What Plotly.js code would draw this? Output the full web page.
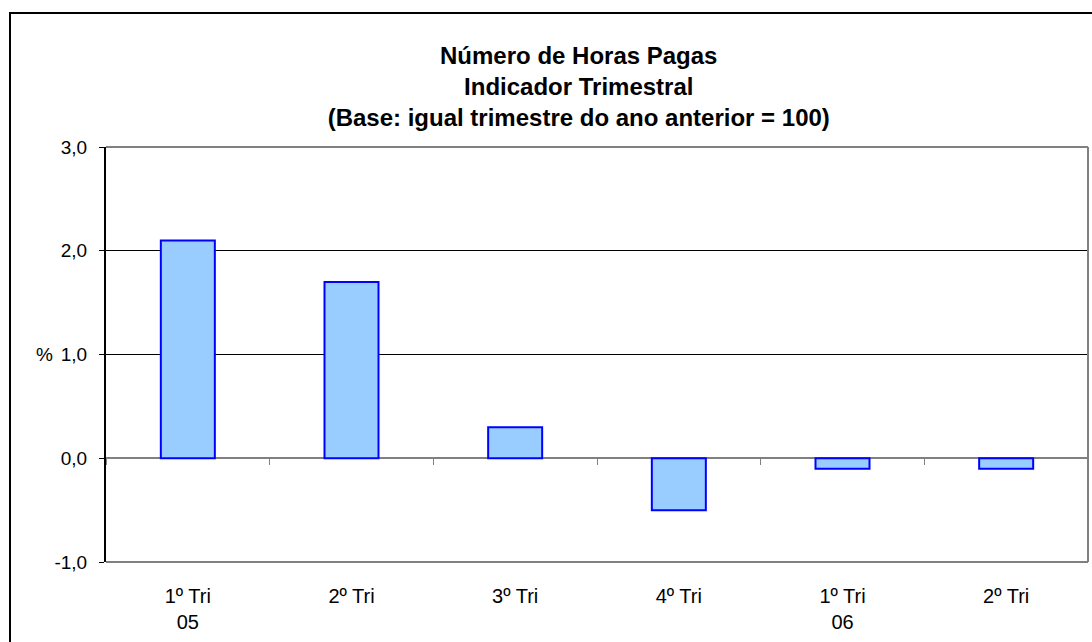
<!DOCTYPE html>
<html>
<head>
<meta charset="utf-8">
<script src="https://cdn.plot.ly/plotly-3.0.1.min.js"></script>
<style>
  html, body { margin: 0; padding: 0; background: #fff; overflow: hidden; }
  #chart { width: 1092px; height: 642px; }
  #frame { position: absolute; left: 9px; top: 12px; width: 2000px; height: 2000px;
           border-left: 2px solid #000; border-top: 2px solid #000; pointer-events: none; }
</style>
</head>
<body>
<div id="chart"></div>
<div id="frame"></div>
<script>
const categories = ["1º Tri 05", "2º Tri 05", "3º Tri 05", "4º Tri 05", "1º Tri 06", "2º Tri 06"];
const tickLabels = ["1º Tri<br>05", "2º Tri", "3º Tri", "4º Tri", "1º Tri<br>06", "2º Tri"];
const values = [2.1, 1.7, 0.3, -0.5, -0.1, -0.1];
const yTicks = [-1, 0, 1, 2, 3];
const yTickLabels = ["-1,0", "0,0", "1,0", "2,0", "3,0"];

const FONT = "Liberation Sans, Arial, sans-serif";
const catRange = [-0.5, categories.length - 0.5];

const traces = [
  {
    type: "bar", x: categories, y: values,
    marker: { color: "#99CCFF", line: { color: "#0000FF", width: 2 } },
    hoverinfo: "skip", showlegend: false
  },
  {
    type: "scatter", mode: "markers", x: categories, y: values,
    xaxis: "x2", marker: { opacity: 0 }, hoverinfo: "skip", showlegend: false
  }
];

const layout = {
  width: 1092, height: 642,
  margin: { l: 106, r: 4, t: 147, b: 80 },
  paper_bgcolor: "#fff", plot_bgcolor: "#fff",
  separators: ",.",
  bargap: 0.67,
  font: { family: FONT, color: "#000", size: 18 },
  title: {
    text: "<b>Número de Horas Pagas<br>Indicador Trimestral<br>(Base: igual trimestre do ano anterior = 100)</b>",
    font: { family: FONT, size: 24, color: "#000" },
    x: 0.530, xanchor: "center", xref: "container",
    y: 1 - 64 / 642, yanchor: "middle", yref: "container"
  },
  xaxis: {
    type: "category", categoryarray: categories, categoryorder: "array",
    range: catRange, autorange: false,
    tickmode: "array", tickvals: categories, ticktext: tickLabels,
    ticks: "", showline: false, showgrid: false, zeroline: false,
    ticklabelstandoff: 20,
    tickfont: { family: FONT, size: 20, color: "#000" },
    fixedrange: true
  },
  xaxis2: {
    type: "category", categoryarray: categories, categoryorder: "array",
    range: catRange, autorange: false,
    overlaying: "x", anchor: "free", position: 0.25,
    ticks: "outside", tickson: "boundaries", ticklen: 6, tickwidth: 1, tickcolor: "#808080",
    showticklabels: false, showline: false, showgrid: false, zeroline: false,
    fixedrange: true
  },
  yaxis: {
    range: [-1, 3], autorange: false,
    tickmode: "array", tickvals: yTicks, ticktext: yTickLabels,
    showgrid: true, gridcolor: "#000", gridwidth: 1,
    zeroline: true, zerolinecolor: "#808080", zerolinewidth: 2,
    showline: true, linecolor: "#000", linewidth: 2,
    ticks: "outside", ticklen: 5, tickcolor: "#000", tickwidth: 1,
    ticklabelstandoff: 8,
    tickfont: { family: FONT, size: 19, color: "#000" },
    fixedrange: true
  },
  shapes: [
    { type: "line", xref: "paper", yref: "paper", x0: 0, x1: 1, y0: 1, y1: 1, line: { color: "#808080", width: 2 }, layer: "above" },
    { type: "line", xref: "paper", yref: "paper", x0: 1, x1: 1, y0: 0, y1: 1, line: { color: "#808080", width: 2 }, layer: "above" },
    { type: "line", xref: "paper", yref: "paper", x0: 0, x1: 1, y0: 0, y1: 0, line: { color: "#808080", width: 2 }, layer: "above" }
  ],
  annotations: [
    { text: "%", xref: "paper", yref: "y", x: -0.063, y: 1, xanchor: "center", yanchor: "middle",
      showarrow: false, font: { family: FONT, size: 19, color: "#000" } }
  ]
};

Plotly.newPlot("chart", traces, layout, { displayModeBar: false, staticPlot: true });
</script>
</body>
</html>
